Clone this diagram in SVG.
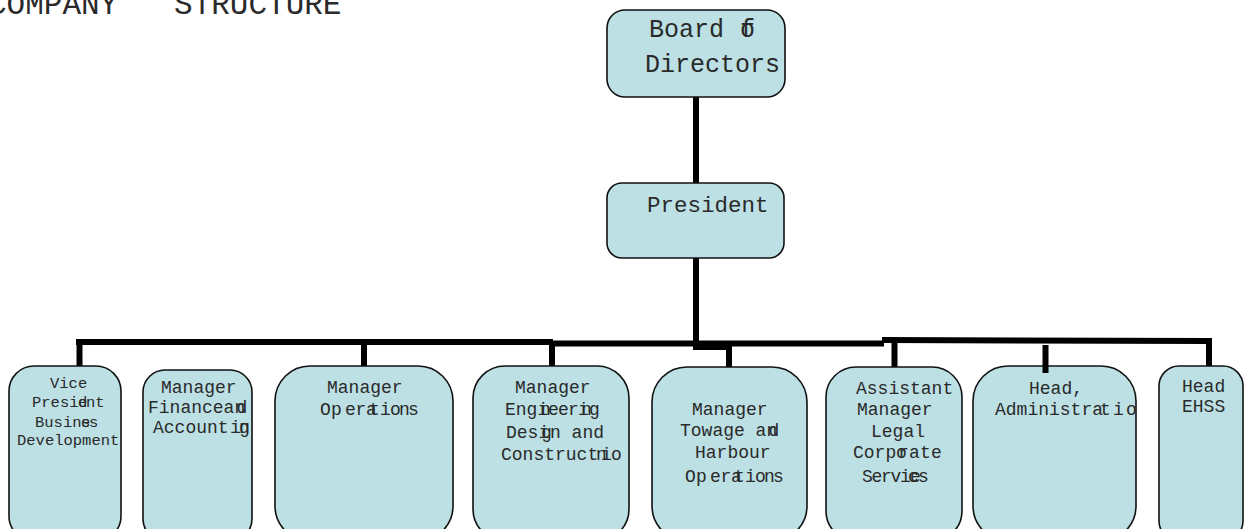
<svg xmlns="http://www.w3.org/2000/svg" width="1247" height="529" viewBox="0 0 1247 529">
<style>
.box{fill:#bce0e4;stroke:#111;stroke-width:1.6}
.t{font-family:"Liberation Mono","Courier New",monospace;fill:#2a2a2a}
.s18{font-size:18px}
.s15{font-size:15.5px}
.c{stroke:#000;stroke-width:6;fill:none}
</style>
<rect width="1247" height="529" fill="#fff"/>
<text class="t" x="-12" y="14" font-size="31">COMPANY&#160;&#160;&#160;STRUCTURE</text>
<g id="connectors">
<line class="c" x1="696" y1="97" x2="696" y2="183"/>
<line class="c" x1="696" y1="258" x2="696" y2="348"/>
<line class="c" x1="76" y1="342" x2="553" y2="342"/>
<line class="c" x1="550" y1="343.5" x2="884" y2="343.5"/>
<line class="c" x1="882" y1="340" x2="1212" y2="341"/>
<rect x="693" y="341" width="39" height="9" fill="#000"/>
<line class="c" x1="79.5" y1="342" x2="79.5" y2="366"/>
<line class="c" x1="364" y1="342" x2="364" y2="366"/>
<line class="c" x1="552" y1="342" x2="552" y2="366"/>
<line class="c" x1="729" y1="345" x2="729" y2="367"/>
<line class="c" x1="894.5" y1="340" x2="894.5" y2="367"/>
<line class="c" x1="1209" y1="338" x2="1209" y2="366"/>
</g>
<g id="board">
<rect class="box" x="607" y="10" width="178" height="87" rx="18"/>
<text class="t" font-size="25" y="37" x="649 664 679 694 709 724 740 740">Board of</text>
<text class="t" font-size="25" x="645" y="72">Directors</text>
</g>
<g id="president">
<rect class="box" x="607" y="183" width="177" height="75" rx="15"/>
<text class="t" font-size="22.5" x="647" y="212">President</text>
</g>
<g id="vp">
<rect class="box" x="9" y="366" width="112" height="175" rx="25"/>
<text class="t s15" x="50" y="388">Vice</text>
<text class="t s15" y="407" x="32 41.3 50.6 59.9 69.2 78 78 86 95.3">President</text>
<text class="t s15" y="427" x="35 44.3 53.6 62.9 72.2 81 81 89">Business</text>
<text class="t s15" x="17" y="445">Development</text>
</g>
<g id="finance">
<rect class="box" x="143" y="370" width="109" height="171" rx="22"/>
<text class="t s18" x="161" y="393">Manager</text>
<text class="t s18" y="413" x="148 158.8 169.6 180.4 191.2 202 212.8 223 223.6 234.4 236.5">Finance and</text>
<text class="t s18" y="433" x="153 163.8 174.6 185.4 196.2 207 217.8 230 239 239">Accounting</text>
</g>
<g id="operations">
<rect class="box" x="275" y="366" width="178" height="175" rx="35"/>
<text class="t s18" x="327" y="393">Manager</text>
<text class="t s18" y="415" x="320 331 345 355.5 366 369 380 390 399 408">Operations</text>
</g>
<g id="engineering">
<rect class="box" x="473" y="366" width="156" height="175" rx="32"/>
<text class="t s18" x="515" y="393">Manager</text>
<text class="t s18" y="415" x="505 515.8 526.6 537.4 540 548 558 568 578 581 589">Engineering</text>
<text class="t s18" y="438" x="506 516.8 527.6 538.4 541 550 560.8 571.6 582.4 593.2">Design and</text>
<text class="t s18" y="460" x="501 511.8 522.6 533.4 544.2 555 565.8 576.6 587.4 601 611 596">Construction</text>
</g>
<g id="towage">
<rect class="box" x="652" y="367" width="155" height="174" rx="35"/>
<text class="t s18" x="692" y="415">Manager</text>
<text class="t s18" y="436" x="680 690.8 701.6 712.4 723.2 734 744.8 755.6 766.4 768.5">Towage and</text>
<text class="t s18" x="695" y="458">Harbour</text>
<text class="t s18" y="482" x="685 696 710 720.5 731 734 745 755 764 773">Operations</text>
</g>
<g id="legal">
<rect class="box" x="826" y="367" width="136" height="174" rx="30"/>
<text class="t s18" x="856" y="394">Assistant</text>
<text class="t s18" x="857" y="415">Manager</text>
<text class="t s18" x="871" y="437">Legal</text>
<text class="t s18" y="458" x="853 863.8 874.6 885.4 896 898 909 920 931">Corporate</text>
<text class="t s18" y="482" x="862 871.5 881 890.5 900 908 910 918">Services</text>
</g>
<g id="admin">
<rect class="box" x="973" y="366" width="163" height="175" rx="35"/>
<text class="t s18" x="1029" y="394">Head,</text>
<text class="t s18" y="415" x="995 1005.8 1016.6 1027.4 1038.2 1049 1059.8 1070.6 1081.4 1092.2 1100 1113 1126">Administratio</text>
<line class="c" x1="1045.5" y1="345" x2="1045.5" y2="373"/>
</g>
<g id="ehss">
<rect class="box" x="1159" y="366" width="84" height="175" rx="20"/>
<text class="t s18" x="1182" y="392">Head</text>
<text class="t s18" x="1182" y="412">EHSS</text>
</g>
</svg>
